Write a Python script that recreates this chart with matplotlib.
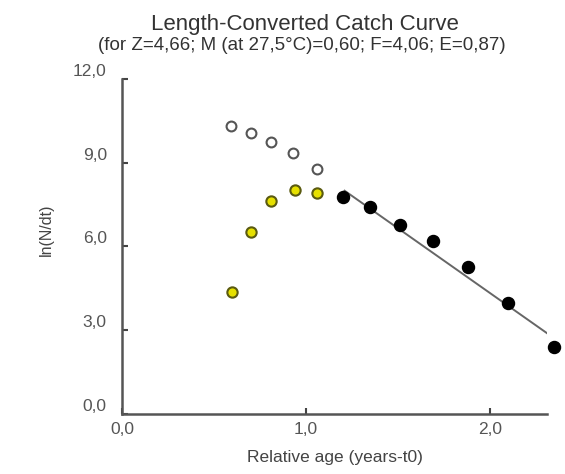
import matplotlib
matplotlib.use("Agg")
import matplotlib.pyplot as plt

plt.rcParams['font.family'] = ['Liberation Sans', 'DejaVu Sans']

# non-used points (open), points excluded (yellow), points used in regression (black)
open_age = [0.59, 0.70, 0.81, 0.93, 1.06]
open_ln = [10.32, 10.08, 9.73, 9.36, 8.78]

excl_age = [0.60, 0.70, 0.81, 0.94, 1.06]
excl_ln = [4.38, 6.51, 7.64, 8.02, 7.90]

used_age = [1.20, 1.35, 1.51, 1.69, 1.88, 2.10, 2.35]
used_ln = [7.76, 7.42, 6.77, 6.19, 5.25, 3.96, 2.39]

# regression line end points
line_age = [1.21, 2.33]
line_ln = [8.00, 2.80]

xticks = [0.0, 1.0, 2.0]
xtick_labels = ["0,0", "1,0", "2,0"]
yticks = [0.0, 3.0, 6.0, 9.0, 12.0]
ytick_labels = ["0,0", "3,0", "6,0", "9,0", "12,0"]

fig = plt.figure(figsize=(5.65, 4.74), dpi=100)
ax = fig.add_axes([0.216, 0.127, 0.752, 0.706])

ax.plot(line_age, line_ln, color='#666666', lw=1.4, zorder=2)
ax.scatter(open_age, open_ln, s=50, facecolor='white', edgecolor='#555555', linewidths=1.5, zorder=3)
ax.scatter(excl_age, excl_ln, s=55, facecolor='#e6e000', edgecolor='#5a5a10', linewidths=1.5, zorder=3)
ax.scatter(used_age, used_ln, s=75, facecolor='black', edgecolor='black', zorder=3, clip_on=False)

ax.set_xlim(0, 2.31)
ax.set_ylim(0, 12)
ax.set_xticks(xticks)
ax.set_xticklabels(xtick_labels)
ax.set_yticks(yticks)
ax.set_yticklabels(ytick_labels)

for s in ['top', 'right']:
    ax.spines[s].set_visible(False)
for s in ['left', 'bottom']:
    ax.spines[s].set_color('#555555')
    ax.spines[s].set_linewidth(1.8)

ax.tick_params(axis='both', direction='in', length=4, width=1.5, color='#444444',
               labelsize=12.5, labelcolor='#555555')
ax.tick_params(axis='y', pad=11)
ax.tick_params(axis='x', pad=6)
for lbl in ax.get_yticklabels():
    lbl.set_va('bottom')

ax.set_xlabel('Relative age (years-t0)', fontsize=12.5, color='#444444', labelpad=9)
ax.set_ylabel('ln(N/dt)', fontsize=11.5, color='#444444')
ax.yaxis.set_label_coords(-0.16, 0.55)

fig.text(0.54, 0.949, 'Length-Converted Catch Curve', ha='center', va='center',
         fontsize=16, color='#333333')
fig.text(0.535, 0.903, '(for Z=4,66; M (at 27,5\u00b0C)=0,60; F=4,06; E=0,87)', ha='center',
         va='center', fontsize=13.5, color='#333333')

fig.savefig('out.png', dpi=100)
